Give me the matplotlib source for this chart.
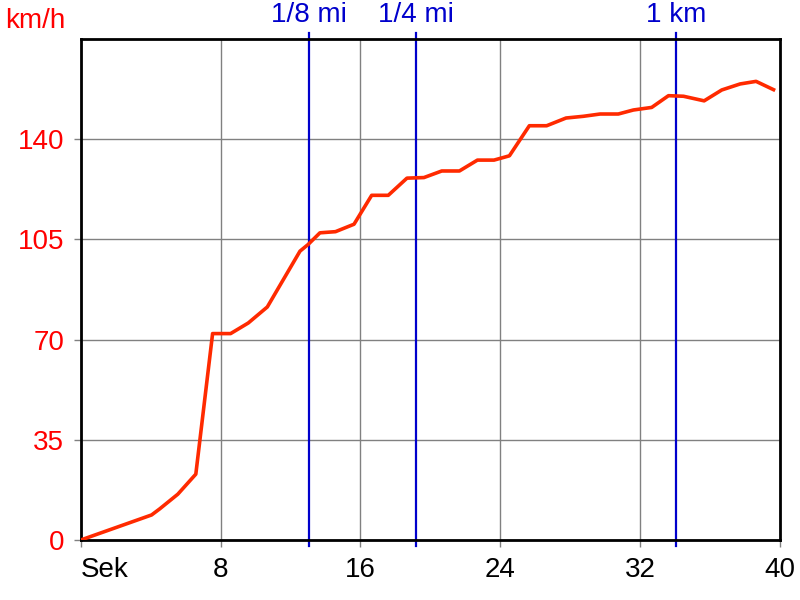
import matplotlib.pyplot as plt

# Zeit (s) und Geschwindigkeit (km/h)
zeit = [0, 2.5, 4.05, 4.52, 5.55, 6.58, 7.54, 8.57, 9.58, 10.67, 12.54, 13.0, 13.68,
        14.57, 15.63, 16.64, 17.59, 18.66, 19.63, 20.65, 21.66, 22.69, 23.64, 24.52,
        25.66, 26.65, 27.76, 28.75, 29.71, 30.75, 31.61, 32.66, 33.62, 34.48, 35.66,
        36.67, 37.72, 38.63, 39.63]
kmh = [0, 5.4, 8.75, 10.9, 16.0, 23.0, 72.1, 72.1, 75.8, 81.4, 100.9, 103.2, 107.3,
       107.7, 110.3, 120.4, 120.4, 126.4, 126.6, 128.9, 128.9, 132.7, 132.7, 134.2,
       144.7, 144.7, 147.4, 148.0, 148.8, 148.8, 150.2, 151.1, 155.2, 155.0, 153.4,
       157.2, 159.3, 160.2, 157.3]

# Markierungen: Zeit bei 1/8 mi, 1/4 mi, 1 km
marken_zeit = [13.05, 19.17, 34.06]
marken_text = ['1/8 mi', '1/4 mi', '1 km']

x_ticks = [0, 8, 16, 24, 32, 40]
x_labels = ['Sek', '8', '16', '24', '32', '40']
y_ticks = [0, 35, 70, 105, 140]

plt.rcParams['font.family'] = ['Liberation Sans', 'DejaVu Sans']

fig = plt.figure(figsize=(8, 6), dpi=100)
ax = fig.add_axes([0.101, 0.1, 0.874, 0.835])

ax.set_xlim(0, 40)
ax.set_ylim(0, 175)

ax.grid(True, color='#808080', linewidth=1)
ax.set_axisbelow(True)

# blaue Markierungslinien, oben und unten etwas über die Achse hinaus
for t, txt in zip(marken_zeit, marken_text):
    ax.axvline(t, ymin=-0.012, ymax=1.012, color='#0000cc', linewidth=1.6,
               zorder=2, clip_on=False)
    ax.text(t, 1.022, txt, transform=ax.get_xaxis_transform(), ha='center', va='bottom',
            color='#0000cc', fontsize=20)

ax.plot(zeit, kmh, color='#ff2a00', linewidth=2.6, zorder=3, solid_joinstyle='round')

ax.set_xticks(x_ticks)
ax.set_xticklabels(x_labels, fontsize=20)
ax.get_xticklabels()[0].set_horizontalalignment('left')
ax.set_yticks(y_ticks)
ax.set_yticklabels([str(v) for v in y_ticks], fontsize=20, color='#ff0000')
ax.tick_params(axis='both', direction='out', length=5, width=1, color='#808080', pad=7)

for s in ax.spines.values():
    s.set_linewidth(2)
    s.set_color('black')

fig.text(0.006, 0.953, 'km/h', color='#ff0000', fontsize=20, ha='left', va='baseline')

fig.savefig('out.png', dpi=100)
